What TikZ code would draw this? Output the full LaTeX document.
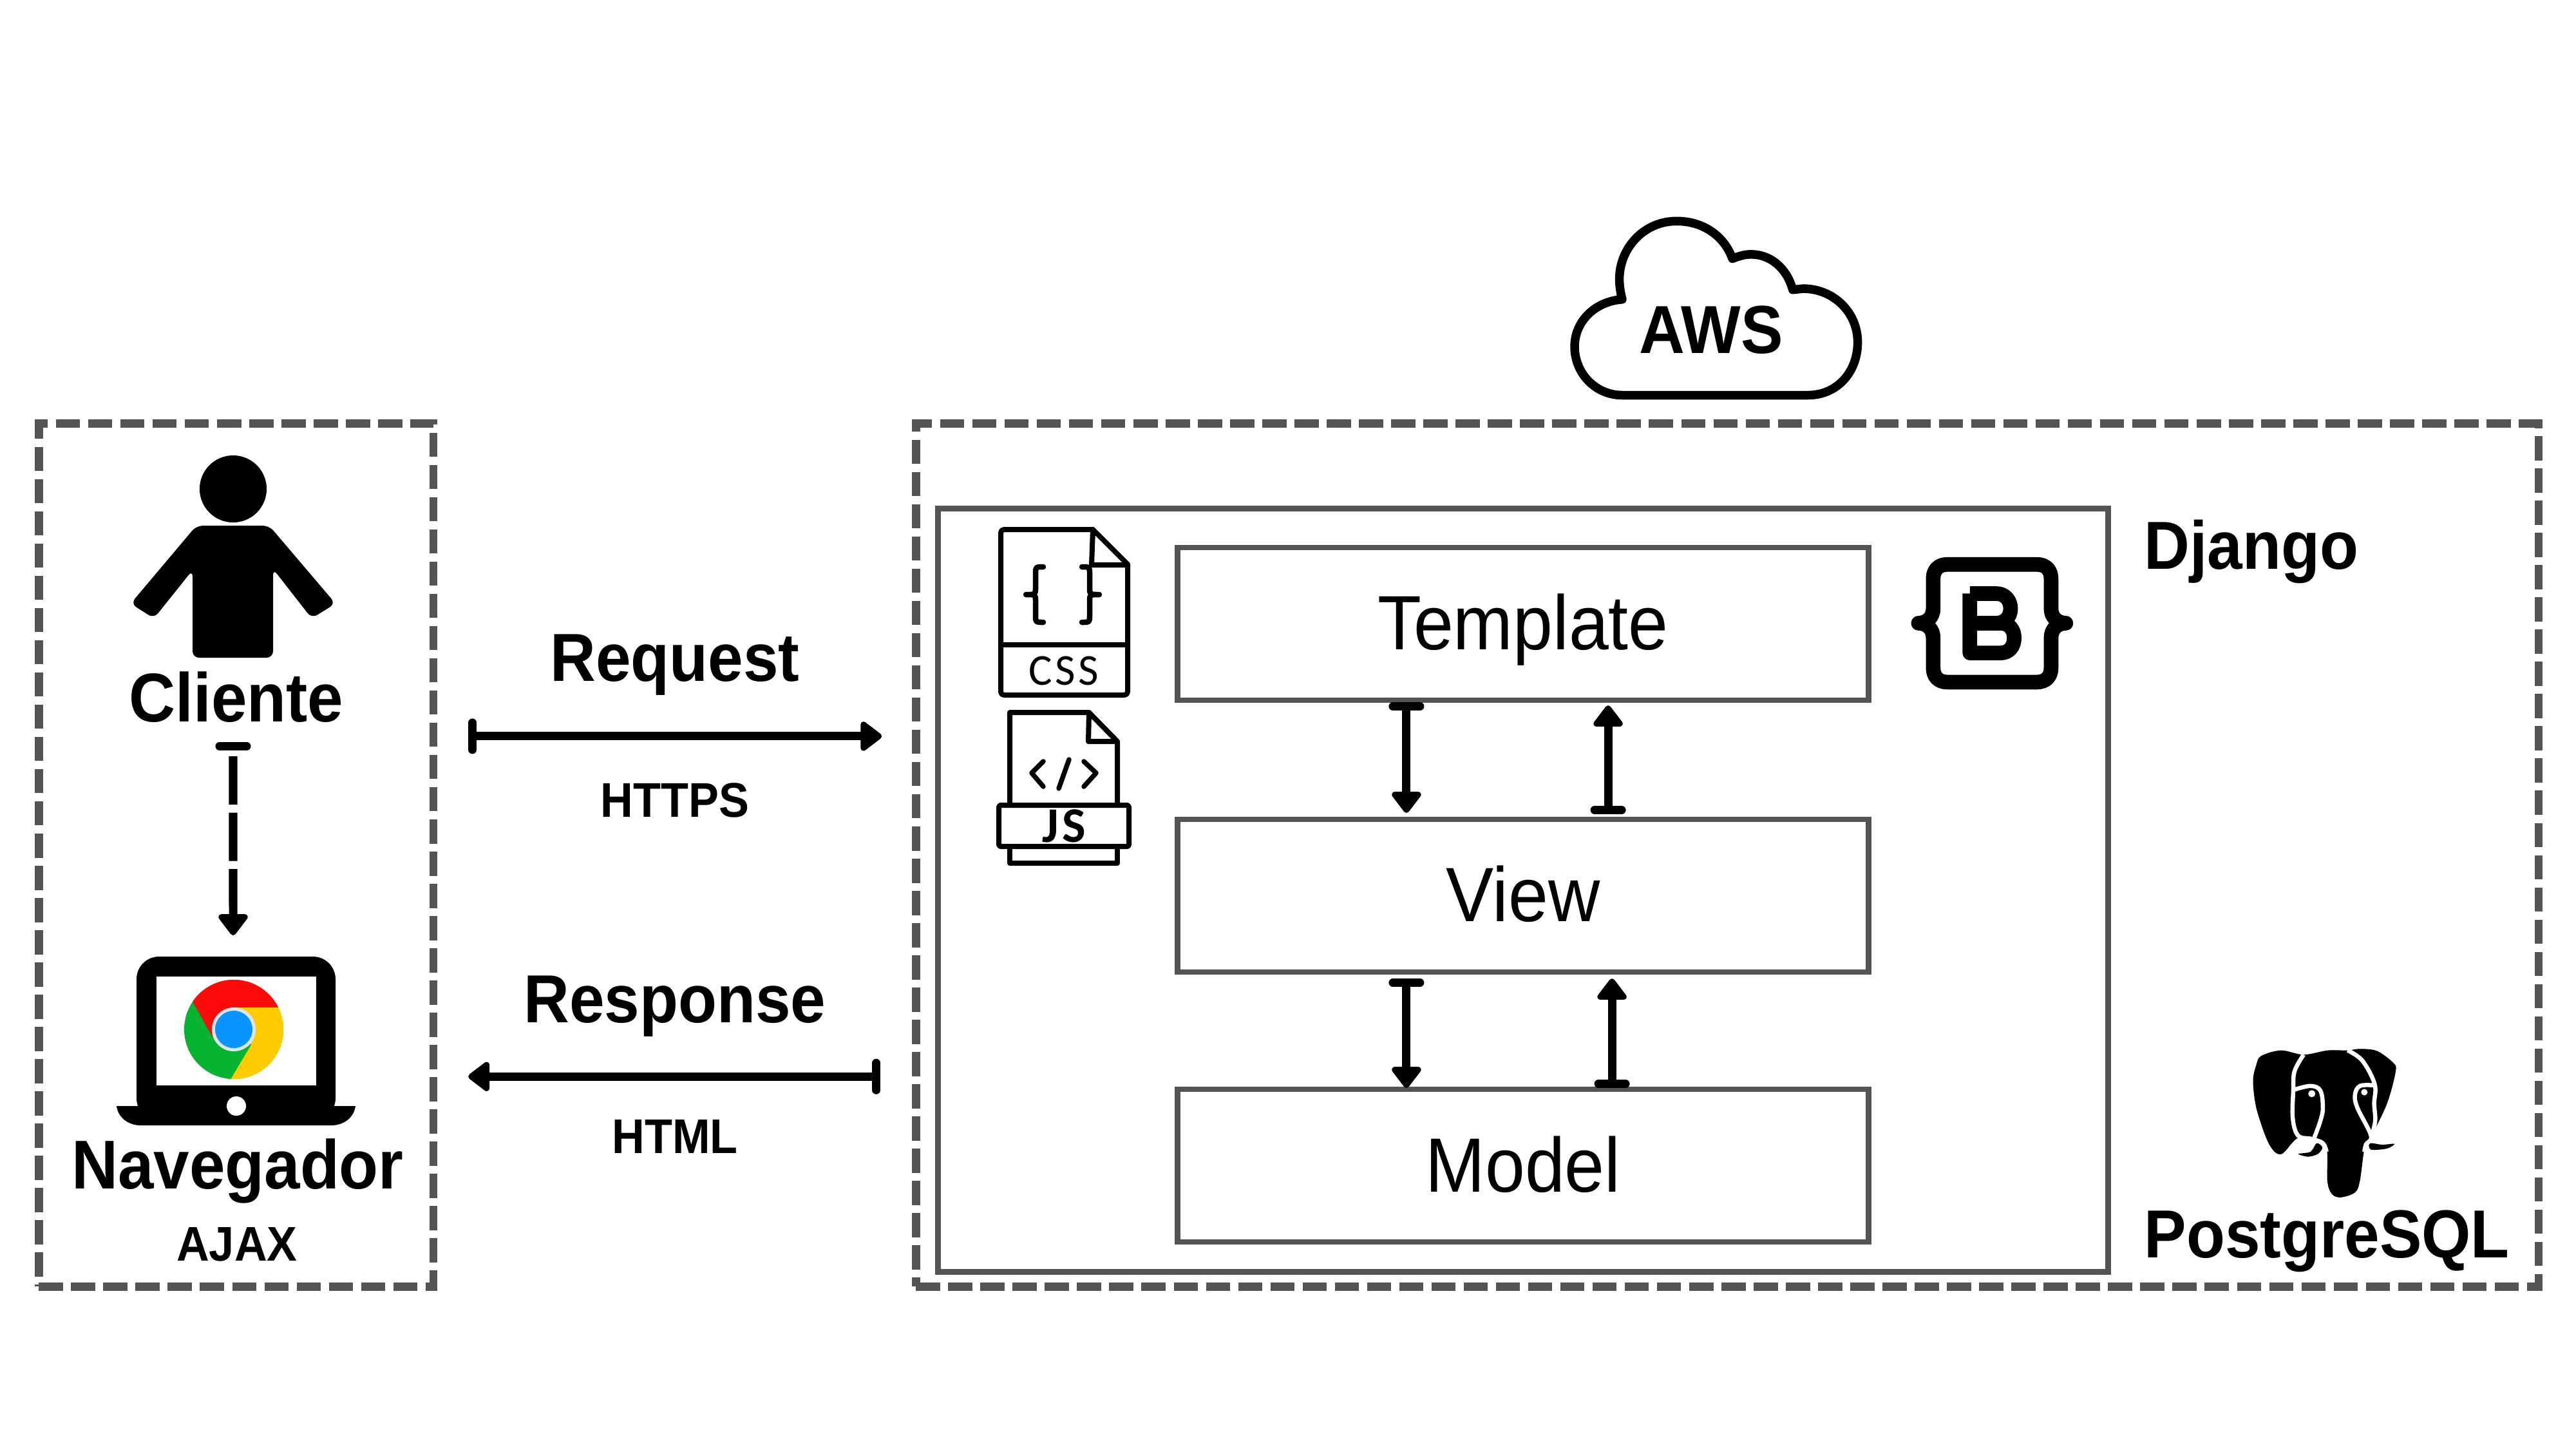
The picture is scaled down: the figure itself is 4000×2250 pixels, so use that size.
\documentclass[tikz,border=0pt]{standalone}
\usepackage{fontspec}
\setmainfont{Liberation Sans}[FakeStretch=0.93]
\newfontfamily\iconfont{Carlito}[LetterSpace=7]
\usetikzlibrary{arrows.meta}
\colorlet{box edge}{black!67}
\definecolor{chrome red}{HTML}{FF0A0A}
\definecolor{chrome green}{HTML}{06B432}
\definecolor{chrome yellow}{HTML}{FFCC00}
\definecolor{chrome blue}{HTML}{0A94FF}
\definecolor{chrome ring}{HTML}{DEE6F2}
\def\chromedisc{(363,1598) circle (.77cm)}
\tikzset{dashbox/.style={draw=box edge, line width=.125cm, dash pattern=on .375cm off .125cm, inner sep=0, outer sep=0},
    plainbox/.style={draw=box edge, line width=.085cm, inner sep=0, outer sep=0},
    layerbox/.style={plainbox, minimum width=10.72cm, minimum height=2.37cm},
    link/.style={line width=.13cm, {Bar[width=.42cm,round]}-{Triangle[length=.36cm,width=.52cm,round]}},
    biglabel/.style={font=\fontsize{30}{30}\selectfont\bfseries, anchor=base, inner sep=0},
    clientlabel/.style={biglabel, font=\fontsize{30.5}{30.5}\selectfont\bfseries},
    smalllabel/.style={font=\fontsize{21.5}{21.5}\selectfont\bfseries, anchor=base, inner sep=0},
    layerlabel/.style={font=\fontsize{34}{34}\selectfont, anchor=base, inner sep=0},
    iconline/.style={draw=black, line width=.08cm, line join=round, line cap=round}}
\begin{document}
\begin{tikzpicture}[x=.01cm, y=-.01cm]
    \useasboundingbox (0,0) rectangle (4000,2250);
    \node[dashbox, minimum width=6.125cm, minimum height=13.39cm] (clientbox) at (366.75,1327.5) {};
    \node[dashbox, minimum width=25.18cm, minimum height=13.39cm] (serverbox) at (2682,1327.5) {};
    \node[plainbox, minimum width=18.16cm, minimum height=11.84cm] (djangobox) at (2365,1382) {};
    \node[layerbox] (template) at (2365,968.5) {};
    \node[layerbox] (view) at (2365,1390.5) {};
    \node[layerbox] (model) at (2365,1809.5) {};
    \node[layerlabel] (templatetext) at (2365,1008) {Template};
    \node[layerlabel] (viewtext) at (2365,1430) {View};
    \node[layerlabel] (modeltext) at (2365,1850) {Model};

    \node[clientlabel] (cliente) at (367,1120) {Cliente};
    \node[clientlabel] (navegador) at (369,1845) {Navegador};
    \node[smalllabel] (ajax) at (368,1957) {AJAX};
    \node[biglabel] (request) at (1048,1057) {Request};
    \node[smalllabel] (https) at (1048,1268) {HTTPS};
    \node[biglabel] (response) at (1048,1587) {Response};
    \node[smalllabel] (html) at (1048,1790) {HTML};
    \node[biglabel, anchor=base west] (django) at (3329,883) {Django};
    \node[biglabel, anchor=base west] (postgres) at (3329,1952) {PostgreSQL};
    \node[biglabel] (aws) at (2657,548) {AWS};

    \coordinate (browser) at (362,1485);
    \draw[link, dash pattern=on .75cm off .125cm, dash phase=.75cm, shorten <=.3cm, shorten >=.33cm] ([xshift=-.05cm]cliente.south) -- (browser);
    \draw[link, shorten <=.54cm, shorten >=.53cm] ([yshift=1.845cm]clientbox.east) -- ([yshift=1.845cm]serverbox.west);
    \draw[link, shorten <=.55cm, shorten >=.54cm] ([yshift=-3.435cm]serverbox.west) -- ([yshift=-3.435cm]clientbox.east);
    \draw[link, shorten <=.03cm, shorten >=.1cm] ([xshift=-1.81cm]template.south) -- ([xshift=-1.81cm]view.north);
    \draw[link, shorten <=.08cm, shorten >=.08cm] ([xshift=1.32cm]view.north) -- ([xshift=1.32cm]template.south);
    \draw[link, shorten <=.1cm, shorten >=.02cm] ([xshift=-1.81cm]view.south) -- ([xshift=-1.81cm]model.north);
    \draw[link, shorten <=.02cm, shorten >=.1cm] ([xshift=1.38cm]model.north) -- ([xshift=1.38cm]view.south);

    \fill (362,759) circle (.52cm);
    \fill[rounded corners=.1cm] (305,816) -- (418,816) -- (521,937) -- (484,960) -- (424,883) -- (424,1021) -- (299,1021) -- (299,885) -- (239,960) -- (203,937) -- cycle;

    \fill[rounded corners=.35cm] (212,1485) rectangle (521,1740);
    \fill (181,1717) -- (552,1717) .. controls (549,1738) and (530,1747) .. (515,1747) -- (218,1747) .. controls (203,1747) and (184,1738) .. (181,1717) -- cycle;
    \fill[white] (243,1516) rectangle (491,1685);
    \fill[white] (367,1717) circle (.15cm);
    \begin{scope}
        \clip \chromedisc;
        \fill[chrome green] \chromedisc;
        \fill[chrome red] (330,1610) -- (280,1521) -- (280,1480) -- (450,1480) -- (450,1564) -- (363,1564) -- cycle;
        \fill[chrome yellow] (363,1564) -- (460,1564) -- (460,1706) -- (340,1706) -- (390,1622) -- cycle;
    \end{scope}
    \fill[chrome ring] (363,1598) circle (.34cm);
    \fill[chrome blue] (363,1598) circle (.29cm);

    \begin{scope}[shift={(2400,300)}, x=.003597cm, y=-.003333cm]
        \draw[line width=.135cm, line join=round] (330,942) -- (1130,942) .. controls (1260,942) and (1345,830) .. (1345,695) .. controls (1345,555) and (1240,445) .. (1110,445) -- (1065,450) .. controls (1040,350) and (970,285) .. (885,285) .. controls (855,285) and (830,295) .. (805,305) .. controls (770,200) and (680,130) .. (565,130) .. controls (420,130) and (318,260) .. (318,400) .. controls (318,430) and (322,460) .. (330,495) .. controls (210,505) and (125,600) .. (125,715) .. controls (125,840) and (215,942) .. (330,942) -- cycle;
    \end{scope}

    \draw[iconline, rounded corners=.05cm] (1697,822) -- (1554,822) -- (1554,1079) -- (1751,1079) -- (1751,876);
    \draw[iconline] (1751,876) -- (1697,822) -- (1695,877) -- (1751,877);
    \draw[iconline] (1554,1001) -- (1751,1001);
    \draw[iconline, line width=.085cm] (1620,880) .. controls (1608,880) .. (1608,891) -- (1608,912) .. controls (1608,923) .. (1593,923) .. controls (1608,923) .. (1608,933) -- (1608,954) .. controls (1608,966) .. (1620,966);
    \draw[iconline, line width=.085cm] (1680,880) .. controls (1692,880) .. (1692,891) -- (1692,912) .. controls (1692,923) .. (1707,923) .. controls (1692,923) .. (1692,933) -- (1692,954) .. controls (1692,966) .. (1680,966);
    \node[font=\iconfont\fontsize{19.5}{19.5}\selectfont, inner sep=0] (csstext) at (1652,1041) {CSS};

    \draw[iconline] (1568,1250) -- (1568,1106) -- (1691,1106) -- (1735,1151) -- (1735,1250);
    \draw[iconline] (1691,1106) -- (1690,1151) -- (1735,1151);
    \draw[iconline] (1568,1314) -- (1568,1340) -- (1735,1340) -- (1735,1314);
    \draw[iconline, rounded corners=.03cm, fill=white] (1551,1250) rectangle (1753,1314);
    \draw[iconline, line width=.075cm] (1620,1182) -- (1602,1200) -- (1620,1221);
    \draw[iconline, line width=.075cm] (1660,1179) -- (1644,1224);
    \draw[iconline, line width=.075cm] (1683,1182) -- (1702,1200) -- (1683,1221);
    \node[font=\iconfont\fontsize{22}{22}\selectfont\bfseries, inner sep=0] (jstext) at (1652,1282) {JS};

    \begin{scope}[shift={(2900,800)}, x=.003333cm, y=-.003333cm]
        \draw[line width=.227cm, line join=round, line cap=round] (372,229) -- (790,229) .. controls (832,229) and (856,255) .. (856,295) -- (856,435) .. controls (856,475) and (885,503) .. (925,503) .. controls (885,503) and (856,530) .. (856,572) -- (856,712) .. controls (856,752) and (832,778) .. (790,778) -- (372,778) .. controls (330,778) and (306,752) .. (306,712) -- (306,572) .. controls (306,530) and (277,503) .. (237,503) .. controls (277,503) and (306,475) .. (306,435) -- (306,295) .. controls (306,255) and (330,229) .. (372,229) -- cycle;
        \draw[line width=.227cm, line join=round] (477,365) -- (600,365) .. controls (640,365) and (667,395) .. (667,435) .. controls (667,475) and (640,503) .. (600,503) -- (477,503);
        \draw[line width=.227cm, line join=round] (477,365) -- (477,642) -- (620,642) .. controls (660,642) and (684,612) .. (684,572) .. controls (684,532) and (660,503) .. (620,503) -- (600,503);
    \end{scope}

    \begin{scope}[shift={(3400,1580)}, x=.003831cm, y=-.003333cm]
        \fill plot[smooth cycle, tension=.55] coordinates {(462,172) (370,152) (290,178) (270,220) (257,295) (270,420) (310,560) (340,620) (365,637) (385,625) (440,560) (510,570) (555,610) (558,760) (575,820) (610,838) (670,815) (690,760) (710,600) (735,555) (800,400) (835,250) (825,210) (760,155) (690,145) (640,152) (560,152)};
        \fill plot[smooth cycle, tension=.5] coordinates {(440,635) (490,625) (515,585) (538,605) (520,635) (480,648)};
        \fill plot[smooth cycle, tension=.5] coordinates {(730,585) (780,592) (830,588) (800,610) (735,615)};
        \draw[white, line width=.065cm] plot[smooth, tension=.6] coordinates {(462,172) (425,250) (420,340) (418,470) (440,550) (495,565) (540,585) (555,625)};
        \draw[white, line width=.065cm] plot[smooth, tension=.6] coordinates {(425,335) (490,318) (530,340) (540,420) (530,480) (505,560)};
        \draw[white, line width=.065cm] plot[smooth, tension=.6] coordinates {(640,152) (700,200) (750,310) (748,400) (752,480) (738,550)};
        \draw[white, line width=.065cm] plot[smooth, tension=.6] coordinates {(745,315) (690,318) (670,360) (680,420) (735,550) (715,590) (708,625)};
        \fill[white] (495,354) circle (.055cm);
        \fill[white] (708,347) circle (.05cm);
    \end{scope}
\end{tikzpicture}
\end{document}
